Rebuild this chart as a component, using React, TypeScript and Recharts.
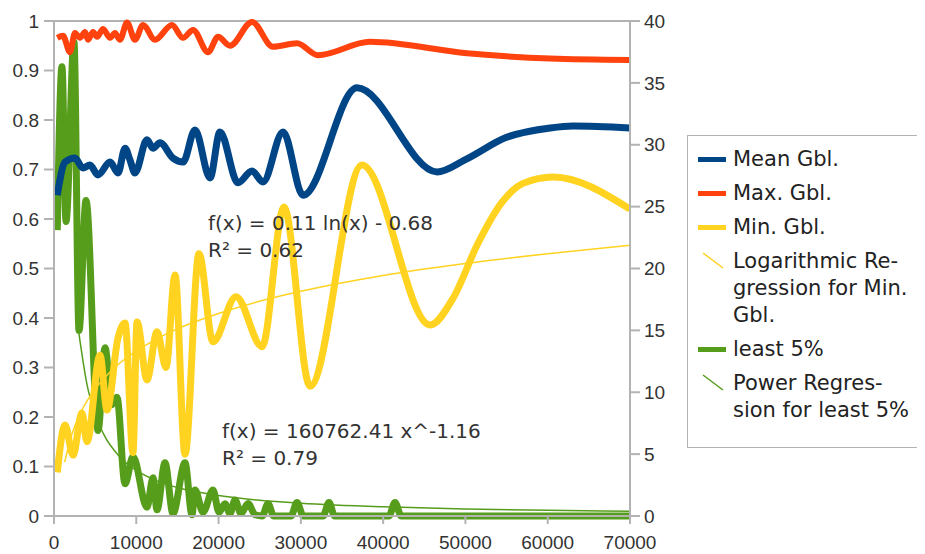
import React from "react";
import { LineChart, Line, XAxis, YAxis, ReferenceLine } from "recharts";

// [x, value] pairs
const meanGbl: [number, number][] = [
  [400, 0.648], [1340, 0.715], [2550, 0.723], [3520, 0.703], [4370, 0.709],
  [5350, 0.689], [6810, 0.715], [7780, 0.693], [8630, 0.743], [9240, 0.719],
  [9840, 0.693], [11300, 0.76], [12030, 0.743], [12880, 0.754], [14460, 0.723],
  [15680, 0.715], [17140, 0.78], [18960, 0.683], [20170, 0.776], [22360, 0.673],
  [24060, 0.697], [25400, 0.675], [27830, 0.776], [30260, 0.648], [36820, 0.865],
  [46550, 0.695], [50000, 0.72], [55000, 0.765], [60300, 0.784], [63080, 0.788],
  [70000, 0.784],
];

const maxGbl: [number, number][] = [
  [400, 0.966], [1090, 0.97], [1940, 0.937], [2550, 0.976], [3160, 0.966],
  [3770, 0.978], [4130, 0.962], [4740, 0.978], [5230, 0.968], [5960, 0.984],
  [6810, 0.966], [7410, 0.976], [8020, 0.962], [8870, 0.997], [9840, 0.962],
  [10820, 0.992], [12270, 0.962], [14340, 0.992], [15680, 0.966], [16890, 0.982],
  [18720, 0.937], [19930, 0.968], [21390, 0.95], [24060, 0.998], [26610, 0.948],
  [29530, 0.955], [32080, 0.931], [38400, 0.958], [50190, 0.935], [60280, 0.924],
  [70000, 0.921],
];

const minGbl: [number, number][] = [
  [400, 0.088], [1340, 0.184], [2310, 0.123], [3400, 0.208], [4010, 0.15],
  [5590, 0.325], [6440, 0.214], [7780, 0.36], [8630, 0.39], [9600, 0.128],
  [10090, 0.392], [11300, 0.275], [12520, 0.372], [13610, 0.3], [14710, 0.487],
  [15920, 0.125], [17620, 0.53], [19320, 0.352], [22120, 0.443], [25280, 0.342],
  [27950, 0.624], [31110, 0.262], [37430, 0.709], [45700, 0.386], [48500, 0.44],
  [51500, 0.55], [54500, 0.635], [57000, 0.672], [60640, 0.685], [70000, 0.62],
];

const logTrend: [number, number][] = [
  [1300, 0.109], [2000, 0.156], [3000, 0.201], [4000, 0.232], [5000, 0.257],
  [6000, 0.277], [8000, 0.309], [10000, 0.333], [12500, 0.358], [15000, 0.378],
  [20000, 0.409], [25000, 0.434], [30000, 0.454], [40000, 0.486], [50000, 0.51],
  [60000, 0.53], [70000, 0.547],
];

// right axis (0-40)
const least5: [number, number][] = [
  [400, 23.1], [970, 36.3], [1460, 23.8], [2430, 38.3], [3040, 15.0],
  [3890, 25.5], [5350, 6.9], [6200, 13.6], [7050, 9.0], [7650, 9.6],
  [8630, 2.6], [9600, 4.8], [11300, 0.7], [12030, 3.1], [12520, 0.5],
  [13490, 4.3], [14460, 0.2], [15920, 4.3], [16770, 0.1], [17140, 2.1],
  [18110, 0.3], [19320, 2.1], [20050, 0.3], [20780, 1.0], [21390, 0.2],
  [22000, 1.3], [22730, 0.2], [23580, 1.0], [24430, 0.1], [25300, 0],
  [26010, 1.0], [26700, 0], [28800, 0], [29530, 1.1], [30300, 0],
  [32700, 0], [33420, 1.1], [34100, 0], [40700, 0], [41440, 1.1],
  [42200, 0], [70000, 0],
];

const powerTrend: [number, number][] = [
  [3000, 14.88], [4000, 10.66], [5000, 8.23], [6000, 6.66], [8000, 4.77],
  [10000, 3.68], [12500, 2.84], [15000, 2.3], [20000, 1.65], [25000, 1.27],
  [30000, 1.03], [40000, 0.74], [50000, 0.57], [60000, 0.46], [70000, 0.385],
];

const xTicks = [0, 10000, 20000, 30000, 40000, 50000, 60000, 70000];
const leftTicks = [0, 0.1, 0.2, 0.3, 0.4, 0.5, 0.6, 0.7, 0.8, 0.9, 1];
const rightTicks = [0, 5, 10, 15, 20, 25, 30, 35, 40];

const BLUE = "#004586";
const RED = "#ff420e";
const YELLOW = "#ffd320";
const GREEN = "#579d1c";
const AXIS = "#b3b3b3";

type Row = { x: number; [key: string]: number };

function buildRows(): Row[] {
  const map = new Map<number, Row>();
  const add = (key: string, pts: [number, number][]) =>
    pts.forEach(([x, y]) => {
      const r = map.get(x) ?? { x };
      r[key] = y;
      map.set(x, r);
    });
  add("mean", meanGbl);
  add("max", maxGbl);
  add("min", minGbl);
  add("logTrend", logTrend);
  add("least5", least5);
  add("powerTrend", powerTrend);
  return [...map.values()].sort((a, b) => a.x - b.x);
}

const rows = buildRows();

const legendItems = [
  { lines: ["Mean Gbl."], color: BLUE, trend: false },
  { lines: ["Max. Gbl."], color: RED, trend: false },
  { lines: ["Min. Gbl."], color: YELLOW, trend: false },
  { lines: ["Logarithmic Re-", "gression for Min.", "Gbl."], color: YELLOW, trend: true },
  { lines: ["least 5%"], color: GREEN, trend: false },
  { lines: ["Power Regres-", "sion for least 5%"], color: GREEN, trend: true },
];

const tickStyle = { fill: "#333", fontSize: 19, fontFamily: "Liberation Sans, Arial, sans-serif" };
const axisStyle = { stroke: AXIS, strokeWidth: 2 };

function ChartLegend() {
  return (
    <div style={{
      position: "absolute", left: 679, top: 127, width: 236, height: 301,
      border: `1px solid ${AXIS}`, background: "#fff", paddingTop: 10, boxSizing: "content-box",
      fontFamily: "DejaVu Sans, sans-serif", fontSize: 21, color: "#222",
    }}>
      {legendItems.map((it) => (
        <div key={it.lines[0]} style={{ position: "relative", marginBottom: 7 }}>
          <svg width={40} height={27} style={{ position: "absolute", left: 0, top: 0 }}>
            {it.trend
              ? <line x1={15} y1={5} x2={35} y2={20} stroke={it.color} strokeWidth={1.5} />
              : <line x1={10} y1={13.5} x2={38} y2={13.5} stroke={it.color} strokeWidth={5} />}
          </svg>
          <div style={{ marginLeft: 45, lineHeight: "27px", whiteSpace: "nowrap" }}>
            {it.lines.map((l) => <div key={l}>{l}</div>)}
          </div>
        </div>
      ))}
    </div>
  );
}

const noteStyle: React.CSSProperties = {
  position: "absolute", fontFamily: "DejaVu Sans, sans-serif", fontSize: 20,
  lineHeight: "27px", color: "#333", whiteSpace: "nowrap",
};

export default function App() {
  return (
    <div style={{ position: "relative", width: 917, height: 546 }}>
      <LineChart width={917} height={546} data={rows} margin={{ top: 13, right: 255, bottom: 8, left: 0 }}>
        <XAxis
          dataKey="x" type="number" domain={[0, 70000]} ticks={xTicks} interval={0}
          height={30} tickSize={8} tickMargin={12}
          axisLine={axisStyle} tickLine={axisStyle} tick={tickStyle}
        />
        <YAxis
          yAxisId="left" domain={[0, 1]} ticks={leftTicks} interval={0} width={46}
          tickSize={10} tickMargin={5} axisLine={axisStyle} tickLine={axisStyle} tick={tickStyle}
        />
        <YAxis
          yAxisId="right" orientation="right" domain={[0, 40]} ticks={rightTicks} interval={0} width={40}
          tickSize={10} tickMargin={4} axisLine={axisStyle} tickLine={axisStyle} tick={tickStyle}
        />
        <ReferenceLine yAxisId="left" y={1} stroke={AXIS} strokeWidth={2} />
        <Line yAxisId="right" dataKey="least5" type="monotone" stroke={GREEN} strokeWidth={7}
          strokeLinejoin="round" dot={false} activeDot={false} connectNulls isAnimationActive={false} />
        <Line yAxisId="right" dataKey="powerTrend" type="monotone" stroke={GREEN} strokeWidth={1.5}
          dot={false} activeDot={false} connectNulls isAnimationActive={false} />
        <Line yAxisId="left" dataKey="mean" type="monotone" stroke={BLUE} strokeWidth={7}
          strokeLinejoin="round" dot={false} activeDot={false} connectNulls isAnimationActive={false} />
        <Line yAxisId="left" dataKey="max" type="monotone" stroke={RED} strokeWidth={6}
          strokeLinejoin="round" dot={false} activeDot={false} connectNulls isAnimationActive={false} />
        <Line yAxisId="left" dataKey="min" type="monotone" stroke={YELLOW} strokeWidth={7}
          strokeLinejoin="round" dot={false} activeDot={false} connectNulls isAnimationActive={false} />
        <Line yAxisId="left" dataKey="logTrend" type="monotone" stroke={YELLOW} strokeWidth={1.5}
          dot={false} activeDot={false} connectNulls isAnimationActive={false} />
      </LineChart>
      <div style={{ ...noteStyle, left: 200, top: 202 }}>
        <div>f(x) = 0.11 ln(x) - 0.68</div>
        <div>R² = 0.62</div>
      </div>
      <div style={{ ...noteStyle, left: 214, top: 410 }}>
        <div>f(x) = 160762.41 x^-1.16</div>
        <div>R² = 0.79</div>
      </div>
      <ChartLegend />
    </div>
  );
}
